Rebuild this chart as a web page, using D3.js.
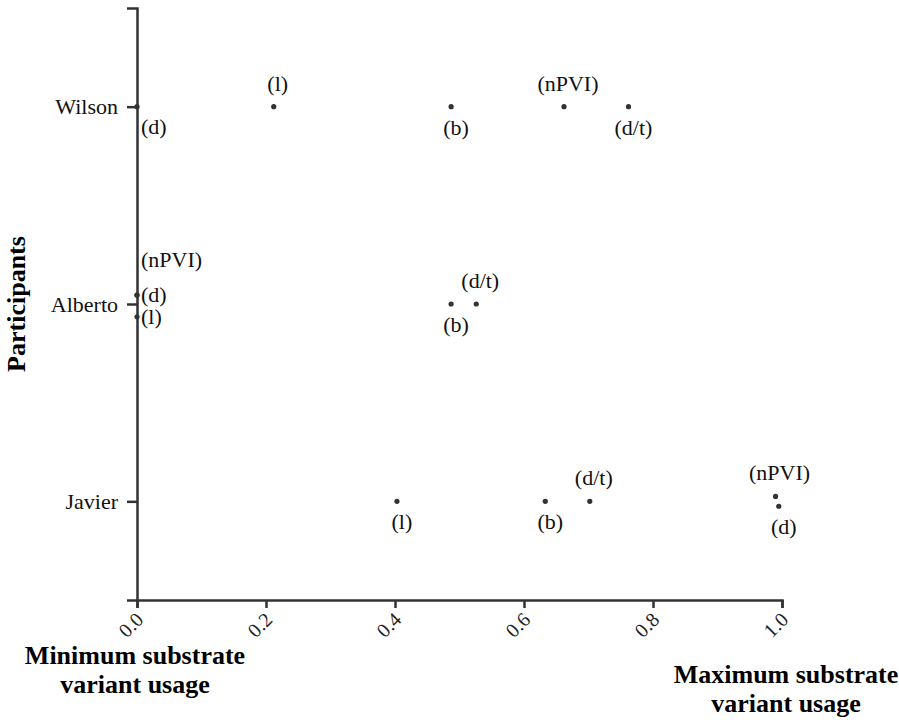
<!DOCTYPE html>
<html>
<head>
<meta charset="utf-8">
<script src="https://cdn.jsdelivr.net/npm/d3@7"></script>
<style>
  body { margin: 0; background: #fff; }
</style>
</head>
<body>
<div id="chart"></div>
<script>
// participants from bottom to top
const participants = ["Javier", "Alberto", "Wilson"];
const measures = ["(l)", "(b)", "(d/t)", "(nPVI)", "(d)"];

// proportion of substrate variant usage, in the order of measures
const javierValues  = [0.403, 0.633, 0.702, 0.990, 0.995];
const albertoValues = [0.000, 0.487, 0.526, 0.000, 0.000];
const wilsonValues  = [0.212, 0.487, 0.762, 0.662, 0.000];

// small vertical jitter (participant units) for overlapping points
const javierJitter  = [0, 0, 0, 0.025, -0.025];
const albertoJitter = [-0.065, 0, 0, 0.045, 0.045];
const wilsonJitter  = [0, 0, 0, 0, 0];

// where each label sits relative to its point
const javierPlace  = ["below", "below", "above", "above", "below"];
const albertoPlace = ["right", "below", "above", "rightHigh", "right"];
const wilsonPlace  = ["above", "below", "below", "above", "belowRight"];

const xTicks = [0, 0.2, 0.4, 0.6, 0.8, 1.0];

const rows = [
    { values: javierValues, jitter: javierJitter, place: javierPlace },
    { values: albertoValues, jitter: albertoJitter, place: albertoPlace },
    { values: wilsonValues, jitter: wilsonJitter, place: wilsonPlace }
];

const points = [];
rows.forEach((r, i) => {
    measures.forEach((m, j) => {
        points.push({
            participant: participants[i],
            level: i + 1 + r.jitter[j],
            measure: m,
            value: r.values[j],
            place: r.place[j]
        });
    });
});

const width = 899, height = 720;
const ink = "#333";
const serif = "'Liberation Serif', 'Times New Roman', Times, serif";

const svg = d3.select("#chart")
    .append("svg")
    .attr("width", width)
    .attr("height", height)
    .style("font-family", serif);

const x = d3.scaleLinear().domain([0, 1]).range([137, 782]);
const y = d3.scaleLinear().domain([0.5, 3.5]).range([600, 8]);

const xAxis = svg.append("g")
    .attr("transform", `translate(0, ${y(0.5)})`)
    .call(d3.axisBottom(x)
        .tickValues(xTicks)
        .tickFormat(d3.format(".1f"))
        .tickSizeOuter(0)
        .tickSize(8));

xAxis.attr("font-family", null).attr("font-size", null);
xAxis.selectAll("text")
    .style("font-size", "20px")
    .attr("fill", "#222")
    .attr("text-anchor", "end")
    .attr("x", 0)
    .attr("y", 0)
    .attr("dy", null)
    .attr("transform", "translate(7, 21) rotate(-45)");

const yAxis = svg.append("g")
    .attr("transform", `translate(${x(0)}, 0)`)
    .call(d3.axisLeft(y)
        .tickValues([1, 2, 3])
        .tickFormat(i => participants[i - 1])
        .tickSizeOuter(0)
        .tickSize(10)
        .tickPadding(9));

yAxis.attr("font-family", null).attr("font-size", null);
yAxis.selectAll("text")
    .style("font-size", "22px")
    .attr("fill", "#111");

svg.selectAll(".domain, .tick line")
    .attr("stroke", ink)
    .attr("stroke-width", 2.5);

svg.selectAll(".dot")
    .data(points)
    .enter()
    .append("circle")
    .attr("class", "dot")
    .attr("cx", d => x(d.value))
    .attr("cy", d => y(d.level))
    .attr("r", 2.6)
    .attr("fill", ink);

const offsets = {
    above:      { dx: 4, dy: -16, anchor: "middle" },
    below:      { dx: 5, dy: 28, anchor: "middle" },
    right:      { dx: 4, dy: 7, anchor: "start" },
    rightHigh:  { dx: 4, dy: -28, anchor: "start" },
    belowRight: { dx: 4, dy: 27, anchor: "start" }
};

svg.selectAll(".label")
    .data(points)
    .enter()
    .append("text")
    .attr("class", "label")
    .attr("x", d => x(d.value) + offsets[d.place].dx)
    .attr("y", d => y(d.level) + offsets[d.place].dy)
    .attr("text-anchor", d => offsets[d.place].anchor)
    .style("font-size", "22px")
    .attr("fill", "#111")
    .text(d => d.measure);

svg.append("text")
    .attr("transform", `translate(25, ${y(2)}) rotate(-90)`)
    .attr("text-anchor", "middle")
    .style("font-size", "26px")
    .attr("font-weight", "bold")
    .text("Participants");

function title(cx, cy, lines) {
    const t = svg.append("text")
        .attr("text-anchor", "middle")
        .style("font-size", "26px")
        .attr("font-weight", "bold");
    lines.forEach((s, i) => {
        t.append("tspan")
            .attr("x", cx)
            .attr("y", cy + i * 29)
            .text(s);
    });
}

title(x(0) - 2, 664, ["Minimum substrate", "variant usage"]);
title(x(1) + 4, 683, ["Maximum substrate", "variant usage"]);
</script>
</body>
</html>
